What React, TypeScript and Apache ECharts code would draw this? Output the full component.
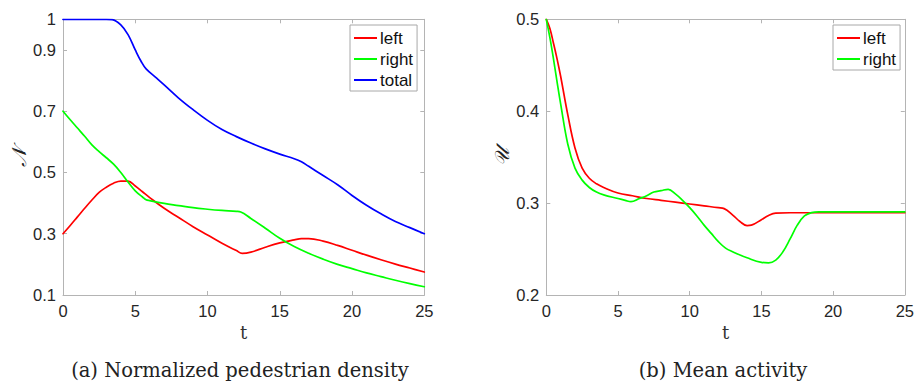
import React, { useEffect, useRef } from "react";
import * as echarts from "echarts";

// Panel (a): normalized pedestrian density
const tLeftA = [0, 0.5, 1, 1.5, 2, 2.5, 3, 3.5, 4, 4.5, 5, 5.5, 6, 7, 8, 9, 10, 11, 12, 12.4, 13, 14, 15, 16, 16.5, 17, 18, 19, 20, 21, 22, 23, 24, 25];
const leftA = [0.30, 0.327, 0.355, 0.383, 0.41, 0.435, 0.452, 0.465, 0.472, 0.472, 0.456, 0.437, 0.418, 0.383, 0.353, 0.323, 0.296, 0.269, 0.245, 0.236, 0.24, 0.256, 0.27, 0.28, 0.284, 0.284, 0.276, 0.262, 0.246, 0.23, 0.215, 0.201, 0.188, 0.175];
const tRightA = [0, 0.5, 1, 1.5, 2, 2.5, 3, 3.5, 4, 4.5, 5, 5.5, 5.75, 6, 7, 8, 9, 10, 11, 12, 12.3, 13, 14, 15, 16, 17, 18, 19, 20, 21, 22, 23, 24, 25];
const rightA = [0.70, 0.672, 0.645, 0.618, 0.59, 0.568, 0.548, 0.527, 0.5, 0.469, 0.44, 0.42, 0.411, 0.408, 0.399, 0.392, 0.385, 0.38, 0.376, 0.373, 0.371, 0.35, 0.318, 0.285, 0.258, 0.236, 0.217, 0.2, 0.186, 0.172, 0.16, 0.148, 0.137, 0.127];
const tTotalA = [0, 1, 2, 3, 3.4, 4, 4.5, 5, 5.4, 5.75, 6.5, 7, 8, 9, 10, 11, 12, 13, 14, 15, 16, 16.5, 17, 18, 19, 20, 21, 22, 23, 24, 25];
const totalA = [1, 1, 1, 1, 0.999, 0.982, 0.95, 0.9, 0.863, 0.838, 0.807, 0.786, 0.743, 0.705, 0.67, 0.64, 0.617, 0.596, 0.577, 0.56, 0.545, 0.535, 0.52, 0.49, 0.46, 0.425, 0.393, 0.365, 0.34, 0.32, 0.30];

// Panel (b): mean activity
const tLeftB = [0, 0.25, 0.5, 0.75, 1, 1.5, 2, 2.5, 3, 3.5, 4, 5, 6, 7, 8, 9, 10, 11, 12, 12.4, 13, 13.5, 14, 14.3, 15, 15.5, 16, 17, 18, 20, 25];
const leftB = [0.5, 0.49, 0.474, 0.457, 0.438, 0.396, 0.36, 0.338, 0.327, 0.321, 0.317, 0.311, 0.308, 0.305, 0.303, 0.301, 0.299, 0.297, 0.295, 0.294, 0.287, 0.28, 0.2755, 0.276, 0.282, 0.2865, 0.289, 0.2895, 0.2895, 0.2895, 0.2895];
const tRightB = [0, 0.25, 0.5, 0.75, 1, 1.5, 2, 2.5, 3, 3.5, 4, 5, 5.5, 5.9, 6.5, 7, 7.5, 8, 8.5, 9, 9.5, 10, 10.5, 11, 11.5, 12, 12.5, 13, 14, 15, 15.5, 16, 16.5, 17, 17.5, 18, 18.5, 19, 20, 25];
const rightB = [0.5, 0.48, 0.457, 0.432, 0.408, 0.364, 0.338, 0.325, 0.317, 0.312, 0.309, 0.305, 0.303, 0.3015, 0.305, 0.308, 0.312, 0.3135, 0.315, 0.31, 0.303, 0.295, 0.286, 0.276, 0.267, 0.258, 0.251, 0.247, 0.2405, 0.2355, 0.235, 0.238, 0.247, 0.261, 0.276, 0.286, 0.2897, 0.2905, 0.2905, 0.2905];

const xTicks = { min: 0, max: 25, interval: 5 };
const yTicksA = { min: 0.1, max: 1, interval: 0.2 };
const yTicksB = { min: 0.2, max: 0.5, interval: 0.1 };

const pairs = (t: number[], v: number[]) => t.map((x, i) => [x, v[i]]);

const AXIS_COLOR = "#b4b4b4";
const LABEL_COLOR = "#262626";
const SANS = "Liberation Sans, Arial, sans-serif";
const SERIF = "DejaVu Serif, Liberation Serif, serif";

export default function App() {
  const ref = useRef<HTMLDivElement>(null);
  useEffect(() => {
    document.body.style.margin = "0";
    const chart = echarts.init(ref.current!, undefined, { renderer: "svg" });
    const axisLine = { show: true, onZero: false, lineStyle: { color: AXIS_COLOR, width: 1 } };
    const axisTick = { show: true, inside: true, length: 4, lineStyle: { color: AXIS_COLOR } };
    const axisLabel = { color: LABEL_COLOR, fontSize: 16.5, fontFamily: SANS, margin: 7 };
    const mkX = (gridIndex: number, main: boolean) => ({
      type: "value", gridIndex, ...xTicks, position: main ? "bottom" : "top",
      axisLine, axisTick, splitLine: { show: false },
      axisLabel: main ? { ...axisLabel, margin: 7 } : { show: false },
      name: main ? "t" : "", nameLocation: "middle", nameGap: 27,
      nameTextStyle: { fontFamily: SERIF, fontSize: 18, color: "#333" },
    });
    const mkY = (gridIndex: number, main: boolean, ticks: any, name: string) => ({
      type: "value", gridIndex, ...ticks, position: main ? "left" : "right",
      axisLine, axisTick, splitLine: { show: false },
      axisLabel: main ? { ...axisLabel, formatter: (v: number) => String(+v.toFixed(2)) } : { show: false },
      name: main ? name : "", nameLocation: "middle", nameGap: 34, nameRotate: 90,
      nameTextStyle: { fontFamily: SERIF, fontSize: 20, color: "#222", fontStyle: "italic" },
    });
    const line = (name: string, color: string, data: number[][], x: number, y: number) => ({
      type: "line", name, data, xAxisIndex: x, yAxisIndex: y, showSymbol: false,
      smooth: 0.4,
      lineStyle: { color, width: 1.7, join: "round", cap: "round" }, itemStyle: { color },
    });
    const legendBase = {
      orient: "vertical", icon: "rect", itemWidth: 23, itemHeight: 2, itemGap: 3,
      borderColor: "#a8a8a8", borderWidth: 1, backgroundColor: "#fff", borderRadius: 0,
      padding: [4, 4, 2, 4],
      textStyle: { fontSize: 17, fontFamily: SANS, color: "#111", lineHeight: 18, padding: [0, 0, 0, -2] },
      selectedMode: false,
    };
    const titleStyle = { fontFamily: SERIF, fontSize: 19.5, fontWeight: "normal", color: "#222" };
    chart.setOption({
      animation: false,
      backgroundColor: "#fff",
      grid: [
        { left: 63, top: 19.3, width: 361.3, height: 275.7 },
        { left: 546.3, top: 19.3, width: 361, height: 275.7 },
      ],
      xAxis: [mkX(0, true), mkX(1, true), mkX(0, false), mkX(1, false)],
      yAxis: [mkY(0, true, yTicksA, "𝒩"), mkY(1, true, yTicksB, "𝒰"), mkY(0, false, yTicksA, ""), mkY(1, false, yTicksB, "")],
      legend: [
        { ...legendBase, left: 350, top: 25, data: ["left", "right", "total"] },
        { ...legendBase, left: 833, top: 25, data: ["left", "right"] },
      ],
      title: [
        { text: "(a) Normalized pedestrian density", left: 240, top: 360, textAlign: "center", textStyle: titleStyle, padding: 0 },
        { text: "(b) Mean activity", left: 723, top: 360, textAlign: "center", textStyle: titleStyle, padding: 0 },
      ],
      series: [
        line("left", "#ff0000", pairs(tLeftA, leftA), 0, 0),
        line("right", "#00ff00", pairs(tRightA, rightA), 0, 0),
        line("total", "#0000ff", pairs(tTotalA, totalA), 0, 0),
        line("left", "#ff0000", pairs(tLeftB, leftB), 1, 1),
        line("right", "#00ff00", pairs(tRightB, rightB), 1, 1),
      ],
    });
    return () => chart.dispose();
  }, []);
  return <div ref={ref} style={{ width: 917, height: 381 }} />;
}
